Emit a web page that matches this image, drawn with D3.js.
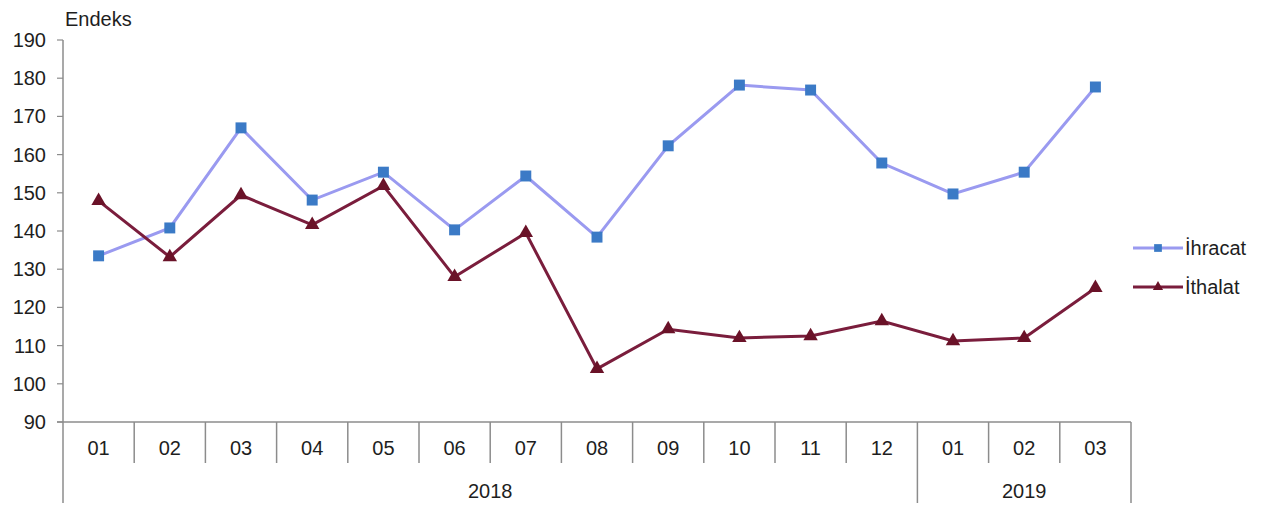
<!DOCTYPE html>
<html lang="tr">
<head>
<meta charset="utf-8">
<title>Endeks</title>
<script src="https://cdn.jsdelivr.net/npm/d3@7"></script>
<style>
  body { margin: 0; background: #fff; font-family: "Liberation Sans", Arial, sans-serif; }
  .axis text { font-size: 20px; fill: #1e1e1e; }
</style>
</head>
<body>
<script>
// data
var months = ["01","02","03","04","05","06","07","08","09","10","11","12","01","02","03"];
var years = [{ label: "2018", from: 0, to: 12 }, { label: "2019", from: 12, to: 15 }];
var ihracat = [133.5, 140.8, 167.0, 148.1, 155.4, 140.3, 154.4, 138.4, 162.3, 178.2, 176.9, 157.8, 149.7, 155.4, 177.7];
var ithalat = [147.9, 133.2, 149.4, 141.6, 151.8, 128.0, 139.5, 103.9, 114.3, 112.0, 112.5, 116.4, 111.2, 112.0, 125.1];
var yTicks = [90, 100, 110, 120, 130, 140, 150, 160, 170, 180, 190];

var w = 1272, h = 505;
var plotLeft = 63, plotRight = 1131, plotTop = 40, base = 422;
var axisColor = "#8c8c8c";

var svg = d3.select("body").append("svg").attr("width", w).attr("height", h);

var x = d3.scaleBand().domain(d3.range(months.length)).range([plotLeft, plotRight]);
var y = d3.scaleLinear().domain([90, 190]).range([base, plotTop]);

// y axis
svg.append("line").attr("x1", plotLeft).attr("x2", plotLeft).attr("y1", plotTop).attr("y2", 503)
  .attr("stroke", axisColor).attr("stroke-width", 1.5);
var yg = svg.append("g").attr("class", "axis");
yg.selectAll("line").data(yTicks).enter().append("line")
  .attr("x1", plotLeft - 6).attr("x2", plotLeft)
  .attr("y1", function(d) { return y(d); }).attr("y2", function(d) { return y(d); })
  .attr("stroke", axisColor).attr("stroke-width", 1.2);
yg.selectAll("text").data(yTicks).enter().append("text")
  .attr("x", 46).attr("y", function(d) { return y(d) + 7; })
  .attr("text-anchor", "end").text(function(d) { return d; });

svg.append("text").attr("x", 65).attr("y", 26).style("font-size", "20px").attr("fill", "#1e1e1e").text("Endeks");

// x axis (two-level categories)
svg.append("line").attr("x1", plotLeft - 6).attr("x2", plotRight).attr("y1", base).attr("y2", base)
  .attr("stroke", axisColor).attr("stroke-width", 1.5);
var xg = svg.append("g").attr("class", "axis");
xg.selectAll("line").data(d3.range(1, months.length + 1)).enter().append("line")
  .attr("x1", function(d) { return d < months.length ? x(d) : plotRight; })
  .attr("x2", function(d) { return d < months.length ? x(d) : plotRight; })
  .attr("y1", base)
  .attr("y2", function(d) { return (d === 12 || d === months.length) ? 503 : 463; })
  .attr("stroke", axisColor).attr("stroke-width", 1.5);
xg.selectAll("text.m").data(months).enter().append("text").attr("class", "m")
  .attr("x", function(d, i) { return x(i) + x.bandwidth() / 2; }).attr("y", 455)
  .attr("text-anchor", "middle").text(function(d) { return d; });
xg.selectAll("text.yr").data(years).enter().append("text").attr("class", "yr")
  .attr("x", function(d) { return (x(d.from) + (d.to < months.length ? x(d.to) : plotRight)) / 2; })
  .attr("y", 498).attr("text-anchor", "middle").text(function(d) { return d.label; });

// series
var series = [
  { name: "İhracat", values: ihracat, line: "#9a9af0", mark: "#3b7ac6", shape: d3.symbolSquare, size: 120 },
  { name: "İthalat", values: ithalat, line: "#7a1d3c", mark: "#6a1228", shape: d3.symbolTriangle, size: 90 }
];
var line = d3.line().x(function(d, i) { return x(i) + x.bandwidth() / 2; }).y(function(d) { return y(d); });

series.forEach(function(s) {
  svg.append("path").datum(s.values).attr("d", line)
    .attr("fill", "none").attr("stroke", s.line).attr("stroke-width", 3);
  svg.selectAll(null).data(s.values).enter().append("path")
    .attr("d", d3.symbol().type(s.shape).size(s.size))
    .attr("transform", function(d, i) { return "translate(" + (x(i) + x.bandwidth() / 2) + "," + y(d) + ")"; })
    .attr("fill", s.mark);
});

// legend
var lg = svg.selectAll(".legend").data(series).enter().append("g").attr("class", "legend")
  .attr("transform", function(d, i) { return "translate(1133," + (248 + i * 39) + ")"; });
lg.append("line").attr("x1", 0).attr("x2", 50).attr("stroke", function(d) { return d.line; }).attr("stroke-width", 3);
lg.append("path").attr("d", function(d) { return d3.symbol().type(d.shape).size(d.size * 0.5)(); })
  .attr("transform", "translate(25,0)").attr("fill", function(d) { return d.mark; });
lg.append("text").attr("x", 52).attr("y", 7).style("font-size", "20px").attr("fill", "#1e1e1e")
  .text(function(d) { return d.name; });
</script>
</body>
</html>
